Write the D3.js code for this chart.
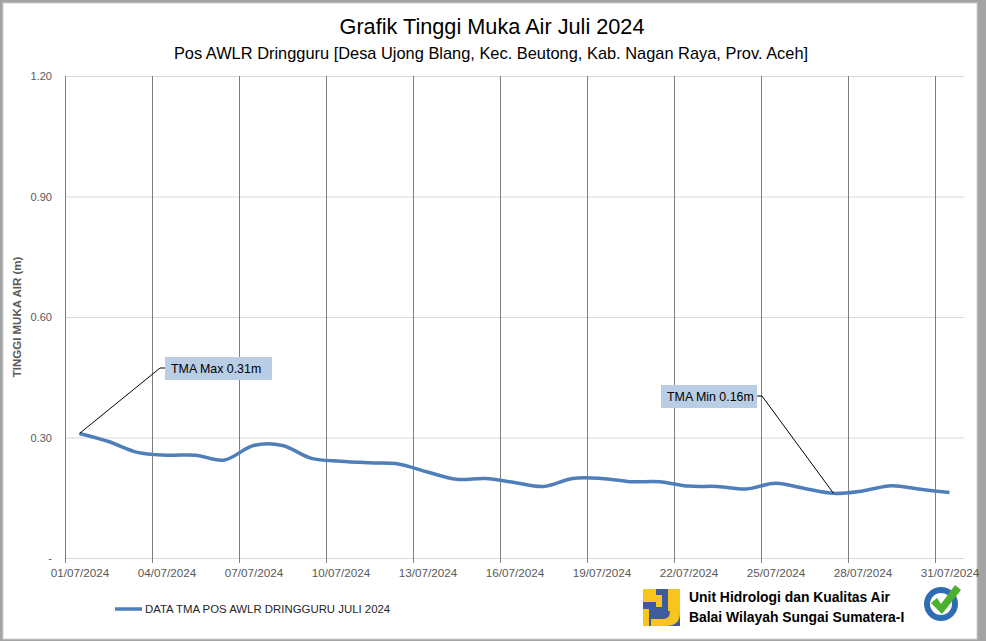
<!DOCTYPE html>
<meta charset="utf-8">
<style>
body { margin: 0; background: #fff; }
text { font-family: "Liberation Sans", Arial, sans-serif; }
.grid-h line { stroke: #d9d9d9; stroke-width: 1px; }
.grid-v line { stroke: #7f7f7f; stroke-width: 1px; }
.axis text { fill: #595959; }
.line { fill: none; stroke: #4f7fba; stroke-width: 3.5px; }
</style>
<svg width="986" height="641"></svg>
<script src="https://cdn.jsdelivr.net/npm/d3@7/dist/d3.min.js"></script>
<script>
// daily water level, July 2024 (day 1..31)
var days = d3.range(1, 32);
var tma = [0.31, 0.29, 0.263, 0.256, 0.256, 0.244, 0.28, 0.28, 0.248, 0.241,
           0.237, 0.234, 0.214, 0.196, 0.198, 0.188, 0.178, 0.198, 0.198, 0.19,
           0.19, 0.179, 0.178, 0.172, 0.186, 0.173, 0.161, 0.167, 0.18, 0.171, 0.163];
var yTicks = [0, 0.3, 0.6, 0.9, 1.2];
var labelDays = [1, 4, 7, 10, 13, 16, 19, 22, 25, 28, 31];
var gridDays = [0.5, 3.5, 6.5, 9.5, 12.5, 15.5, 18.5, 21.5, 24.5, 27.5, 30.5];
var seriesName = "DATA TMA POS AWLR DRINGGURU JULI 2024";
var maxNote = {day: 1, text: "TMA Max 0.31m"};
var minNote = {day: 27, text: "TMA Min 0.16m"};

var svg = d3.select("svg");

// frame
svg.append("rect").attr("width", 986).attr("height", 641).attr("fill", "#a3a3a3");
svg.append("rect").attr("x", 3).attr("y", 3).attr("width", 974).attr("height", 636)
    .attr("fill", "#fff").attr("stroke", "#d0d0d0");

var plot = {left: 65, right: 964, top: 76, bottom: 558};

var x = d3.scaleLinear().domain([0.5, 31.5]).range([plot.left, plot.right]),
    y = d3.scaleLinear().domain([0, 1.2]).range([plot.bottom, plot.top]);

// horizontal gridlines + y labels
var yAxis = svg.append("g")
    .attr("class", "axis grid-h")
    .attr("transform", "translate(" + plot.left + ",0)")
    .call(d3.axisLeft(y).tickValues(yTicks).tickSize(-(plot.right - plot.left)).tickPadding(13)
      .tickFormat(function(d) { return d === 0 ? "-" : d.toFixed(2); }));
yAxis.select(".domain").remove();
yAxis.selectAll("text").style("font-size", "11px");

// vertical gridlines (between days) with tick marks below axis
var vg = svg.append("g")
    .attr("class", "grid-v")
    .attr("transform", "translate(0," + (plot.bottom + 5) + ")")
    .call(d3.axisBottom(x).tickValues(gridDays).tickSize(-(plot.bottom + 5 - plot.top)).tickFormat(""));
vg.select(".domain").remove();

// x labels centred on the day
var xAxis = svg.append("g")
    .attr("class", "axis")
    .attr("transform", "translate(0," + plot.bottom + ")")
    .call(d3.axisBottom(x).tickValues(labelDays).tickSize(0).tickPadding(11)
      .tickFormat(function(d) { return d3.format("02")(d) + "/07/2024"; }));
xAxis.select(".domain").remove();
xAxis.selectAll("text").style("font-size", "11.7px");

// y title
svg.append("text")
    .attr("transform", "translate(21," + ((plot.top + plot.bottom) / 2) + ") rotate(-90)")
    .attr("text-anchor", "middle")
    .attr("fill", "#595959")
    .style("font-size", "11.5px")
    .style("font-weight", "bold")
    .text("TINGGI MUKA AIR (m)");

// titles
svg.append("text")
    .attr("x", 492).attr("y", 34)
    .attr("text-anchor", "middle")
    .attr("fill", "#000")
    .style("font-size", "21.7px")
    .text("Grafik Tinggi Muka Air Juli 2024");
svg.append("text")
    .attr("x", 491).attr("y", 59)
    .attr("text-anchor", "middle")
    .attr("fill", "#000")
    .style("font-size", "16.4px")
    .text("Pos AWLR Dringguru [Desa Ujong Blang, Kec. Beutong, Kab. Nagan Raya, Prov. Aceh]");

// series line
var line = d3.line()
    .curve(d3.curveCardinal.tension(0))
    .x(function(d, i) { return x(days[i]); })
    .y(function(d) { return y(d); });

svg.append("path")
    .datum(tma)
    .attr("class", "line")
    .attr("d", line);

// annotations
function note(n, bx, by, bw, side) {
  var px = x(n.day), py = y(tma[n.day - 1]);
  var g = svg.append("g");
  var ly = by + 11;
  var ex = side === "right" ? bx - 5 : bx + bw + 5;
  var cx = side === "right" ? bx : bx + bw;
  g.append("path")
      .attr("d", "M" + px + "," + py + "L" + ex + "," + ly + "L" + cx + "," + ly)
      .attr("fill", "none").attr("stroke", "#000").attr("stroke-width", 1);
  g.append("rect")
      .attr("x", bx).attr("y", by).attr("width", bw).attr("height", 23)
      .attr("fill", "#b9cde4");
  g.append("text")
      .attr("x", bx + 6).attr("y", by + 16)
      .attr("fill", "#000")
      .style("font-size", "12.4px")
      .text(n.text);
}
note(maxNote, 165, 357, 107, "right");
note(minNote, 661, 385, 96, "left");

// legend
svg.append("line")
    .attr("x1", 115).attr("x2", 142).attr("y1", 609).attr("y2", 609)
    .attr("stroke", "#4f7fba").attr("stroke-width", 3.5);
svg.append("text")
    .attr("x", 145).attr("y", 613)
    .attr("fill", "#262626")
    .style("font-size", "11.4px")
    .text(seriesName);

// PU logo
var pu = svg.append("g").attr("transform", "translate(643,589)");
pu.append("rect").attr("width", 37).attr("height", 37).attr("fill", "#3f5b9e");
pu.append("rect").attr("x", 0).attr("y", 0).attr("width", 13).attr("height", 13).attr("fill", "#f7c51e");
pu.append("path")
    .attr("d", "M13,6 L19,6 L19,18 L13,18 Z M25,0 L37,0 L37,24 Q37,37 22,37 L8,37 L8,30 L20,30 Q27,30 27,22 L25,22 Z M0,20 L6,20 L6,37 L0,37 Z")
    .attr("fill", "#f7c51e");

svg.append("text")
    .attr("x", 689).attr("y", 602)
    .attr("fill", "#000")
    .style("font-size", "13.9px").style("font-weight", "bold")
    .text("Unit Hidrologi dan Kualitas Air");
svg.append("text")
    .attr("x", 689).attr("y", 622)
    .attr("fill", "#000")
    .style("font-size", "13.9px").style("font-weight", "bold")
    .text("Balai Wilayah Sungai Sumatera-I");

// ISO badge
var iso = svg.append("g").attr("transform", "translate(941,604)");
iso.append("circle").attr("r", 17).attr("fill", "#2e6db4");
iso.append("circle").attr("r", 11).attr("fill", "#fff");
iso.append("path")
    .attr("d", "M-10,-1 L-4,-6 L0,0 L14,-19 L20,-14 L1,10 Z")
    .attr("fill", "#4caf2e");
</script>
